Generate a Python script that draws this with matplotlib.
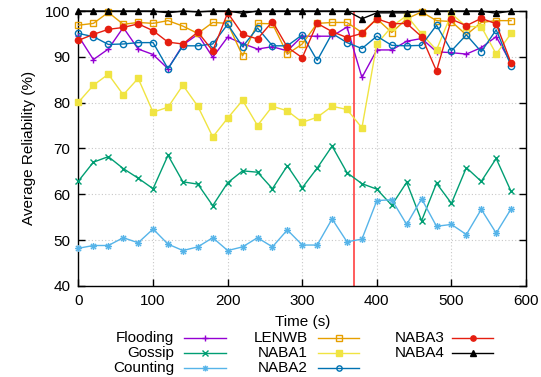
import matplotlib
matplotlib.use("Agg")
import matplotlib.pyplot as plt
from matplotlib.lines import Line2D
from matplotlib.path import Path

plt.rcParams['font.family'] = ['Liberation Sans', 'DejaVu Sans']

time = list(range(0, 600, 20))

flooding = [94.5, 89.4, 91.7, 96.4, 91.7, 90.5, 87.4, 92.6, 94.9, 89.9, 94.3, 92.9, 91.7, 92.2, 91.3,
            94.5, 94.5, 94.5, 96.5, 85.5, 91.5, 91.5, 93.4, 94.0, 91.1, 90.9, 90.6, 92.0, 94.4, 88.6]
gossip = [62.9, 67.0, 68.2, 65.6, 63.5, 61.2, 68.5, 62.7, 62.2, 57.5, 62.5, 65.1, 64.8, 61.2, 66.2,
          61.4, 65.7, 70.5, 64.7, 62.3, 61.1, 57.6, 62.6, 54.2, 62.4, 58.0, 65.8, 62.8, 67.8, 60.6]
counting = [48.2, 48.8, 48.8, 50.5, 49.4, 52.4, 49.1, 47.7, 48.5, 50.5, 47.7, 48.5, 50.5, 48.5, 52.2,
            48.9, 48.9, 54.6, 49.6, 50.2, 58.6, 58.8, 53.4, 59.0, 53.0, 53.4, 51.2, 56.7, 51.5, 56.8]
lenwb = [96.9, 97.3, 99.7, 97.1, 97.5, 97.3, 97.9, 96.7, 95.1, 97.5, 97.3, 90.2, 97.3, 97.2, 90.6,
         92.8, 97.3, 97.5, 97.5, 95.3, 98.3, 95.3, 98.3, 99.8, 97.9, 97.7, 94.8, 97.5, 97.9, 97.9]
naba1 = [80.1, 83.8, 86.2, 81.7, 85.3, 77.9, 79.0, 83.8, 79.2, 72.5, 76.6, 80.5, 75.0, 79.2, 78.2,
         75.7, 76.8, 79.2, 78.5, 74.5, 92.8, 96.6, 99.0, 95.0, 91.5, 99.4, 96.6, 96.6, 90.6, 95.1]
naba2 = [95.1, 94.4, 92.7, 92.8, 93.1, 93.1, 87.4, 92.4, 92.4, 92.8, 97.1, 92.2, 96.3, 92.4, 92.4,
         94.8, 89.2, 95.1, 93.1, 91.8, 94.5, 92.5, 92.4, 92.5, 96.9, 91.3, 94.8, 91.1, 95.9, 88.0]
naba3 = [93.6, 94.9, 96.0, 96.4, 97.2, 95.7, 93.2, 92.8, 95.4, 91.3, 99.6, 94.9, 93.9, 97.7, 92.1,
         89.8, 97.3, 95.5, 94.2, 95.1, 98.3, 97.2, 97.3, 94.4, 86.9, 98.2, 96.8, 98.4, 97.2, 88.6]
naba4 = [100, 100, 100, 100, 100, 100, 99.6, 100, 99.8, 100, 100, 99.5, 100, 100, 100,
         100, 100, 100, 100, 98.3, 99.6, 99.6, 99.6, 100, 100, 100, 100, 100, 99.5, 100]

event_time = 370

# gnuplot point type 3: plus + cross
star_path = Path(
    [(-1, 0), (1, 0), (0, -1), (0, 1), (-0.75, -0.75), (0.75, 0.75), (-0.75, 0.75), (0.75, -0.75)],
    [Path.MOVETO, Path.LINETO] * 4,
)

series = [
    ("Flooding", flooding, "#9400d3", "+", True),
    ("Gossip", gossip, "#009e73", "x", True),
    ("Counting", counting, "#56b4e9", star_path, True),
    ("LENWB", lenwb, "#e69f00", "s", False),
    ("NABA1", naba1, "#f0e442", "s", True),
    ("NABA2", naba2, "#0072b2", "o", False),
    ("NABA3", naba3, "#e51e10", "o", True),
    ("NABA4", naba4, "#000000", "^", True),
]

fig = plt.figure(figsize=(5.41, 3.77), dpi=100)
ax = fig.add_axes([0.1451, 0.2419, 0.9723 - 0.1451, 0.9708 - 0.2419])

def style(color, marker, filled):
    kw = dict(color=color, lw=1.0, marker=marker, ms=5, mew=1.0)
    if isinstance(marker, str) and marker in ("s", "o", "^"):
        kw["ms"] = 4.5
        kw["mfc"] = color if filled else "none"
        kw["mec"] = color
    return kw

for name, vals, color, marker, filled in series:
    ax.plot(time, vals, **style(color, marker, filled), clip_on=False, zorder=3)

ax.axvline(event_time, color="#ff3030", lw=1.1, zorder=2)

ax.set_xlim(0, 600)
ax.set_ylim(40, 100)
ax.set_xticks(range(0, 601, 100))
ax.set_yticks(range(40, 101, 10))
ax.grid(True, color="#c8c8c8", linestyle=(0, (1, 2)), lw=0.8)
ax.tick_params(direction="in", top=True, right=True, length=5, width=1, labelsize=11, pad=6)
for s in ax.spines.values():
    s.set_linewidth(1.0)
ax.set_ylabel("Average Reliability (%)", fontsize=11, labelpad=6)
fig.text(303 / 541, 1 - 322 / 377, "Time (s)", ha="center", va="center", fontsize=11)

# gnuplot-style key below the plot
cols_x = [(174, 184, 226), (308, 318, 359), (445, 452, 493)]
rows_y = [338, 353, 368]
W, H = 541.0, 377.0
for i, (name, vals, color, marker, filled) in enumerate(series):
    c = i // 3
    r = i % 3
    tx, x0, x1 = cols_x[c]
    y = 1 - rows_y[r] / H
    fig.text(tx / W, y, name, ha="right", va="center", fontsize=11)
    fig.add_artist(Line2D([x0 / W, x1 / W], [y, y], color=color, lw=1.0, transform=fig.transFigure))
    kw = style(color, marker, filled)
    kw.pop("lw")
    kw["ms"] = kw["ms"] * 0.85
    fig.add_artist(Line2D([(x0 + x1) / 2 / W], [y], linestyle="none", transform=fig.transFigure, **kw))

fig.savefig("out.png", dpi=100)
